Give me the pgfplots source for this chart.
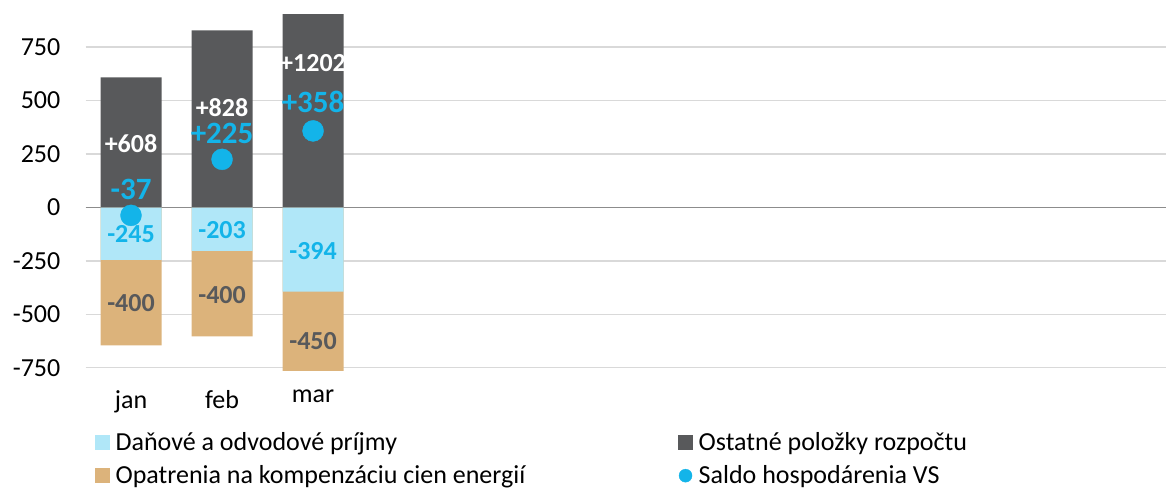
\documentclass[border=0pt]{standalone}
\usepackage{pgfplots}
\pgfplotsset{compat=1.18}
\usepackage{fontspec}
\setmainfont{Carlito}
\definecolor{danove}{HTML}{B0E7F8}
\definecolor{ostatne}{HTML}{58595B}
\definecolor{opatrenia}{HTML}{DCB37B}
\definecolor{saldo}{HTML}{13B4E9}
\definecolor{gridgray}{HTML}{D9D9D9}
\definecolor{zerogray}{HTML}{8C8C8C}
\newcommand{\chartfont}{\fontsize{26}{30}\selectfont}
\begin{document}
\begin{tikzpicture}[x=1pt,y=1pt]
\useasboundingbox (0,0) rectangle (1166,491);
\begin{axis}[
  at={(85.5pt,121pt)}, anchor=south west,
  scale only axis, width=1080.5pt, height=355pt,
  xmin=-0.5, xmax=11.37, ymin=-760, ymax=900,
  axis line style={draw=none}, tick style={draw=none},
  ytick={-750,-500,...,750},
  ymajorgrids, grid style={gridgray, line width=1.2pt},
  extra y ticks={0}, extra y tick labels={},
  extra y tick style={grid style={zerogray, line width=1.8pt}},
  xtick={0,1,2}, xticklabels={jan,feb,mar},
  tick label style={font=\chartfont},
  /pgf/number format/assume math mode=true,
  /pgf/number format/1000 sep={},
  yticklabel style={anchor=east, inner sep=0pt, xshift=-25pt},
  xticklabel style={anchor=north, inner sep=0pt, yshift=-20pt},
  legend columns=2,
  legend cell align=left,
  legend style={at={(axis description cs:0.0088,-0.175)}, anchor=north west,
    draw=none, fill=none, font=\chartfont, inner sep=0pt, row sep=14pt,
    nodes={inner xsep=3pt, inner ysep=0pt},
    /tikz/every odd column/.append style={column sep=3pt},
    /tikz/every even column/.append style={column sep=150pt}},
]
\addlegendimage{legend image code/.code={\fill[danove] (-2pt,-7pt) rectangle (12pt,7pt);}}
\addlegendentry{Daňové a odvodové príjmy}
\addlegendimage{legend image code/.code={\fill[ostatne] (-2pt,-7pt) rectangle (12pt,7pt);}}
\addlegendentry{Ostatné položky rozpočtu}
\addlegendimage{legend image code/.code={\fill[opatrenia] (-2pt,-7pt) rectangle (12pt,7pt);}}
\addlegendentry{Opatrenia na kompenzáciu cien energií}
\addlegendimage{legend image code/.code={\fill[saldo] (5pt,0pt) circle (6.5pt);}}
\addlegendentry{Saldo hospodárenia VS}

% opatrenia drawn down to the total of the negative stack (-245-400 etc.)
\addplot[ybar, bar width=61pt, bar shift=0pt, fill=opatrenia, draw=none, forget plot]
  coordinates {(0,-645) (1,-603) (2,-844)};
% danove
\addplot[ybar, bar width=61pt, bar shift=0pt, fill=danove, draw=none, forget plot]
  coordinates {(0,-245) (1,-203) (2,-394)};
% ostatne
\addplot[ybar, bar width=61pt, bar shift=0pt, fill=ostatne, draw=none, forget plot]
  coordinates {(0,608) (1,828) (2,1202)};
% saldo
\addplot[only marks, mark=*, mark size=10.5pt, color=saldo, forget plot]
  coordinates {(0,-37) (1,225) (2,358)};

% data labels
\addplot[only marks, mark=none, forget plot, nodes near coords, point meta=explicit symbolic,
  nodes near coords align=center,
  every node near coord/.append style={font=\bfseries\chartfont, text=white, inner sep=0pt}]
  coordinates {(0,297)[+608] (1,467)[+828] (2,675)[+1202]};
\addplot[only marks, mark=none, forget plot, nodes near coords, point meta=explicit symbolic,
  nodes near coords align=center,
  every node near coord/.append style={font=\bfseries\fontsize{31}{36}\selectfont, text=saldo, inner sep=0pt}]
  coordinates {(0,86)[-37] (1,348)[+225] (2,493)[+358]};
\addplot[only marks, mark=none, forget plot, nodes near coords, point meta=explicit symbolic,
  nodes near coords align=center,
  every node near coord/.append style={font=\bfseries\chartfont, text=saldo, inner sep=0pt}]
  coordinates {(0,-124)[-245] (1,-105)[-203] (2,-203)[-394]};
\addplot[only marks, mark=none, forget plot, nodes near coords, point meta=explicit symbolic,
  nodes near coords align=center,
  every node near coord/.append style={font=\bfseries\chartfont, text=ostatne, inner sep=0pt}]
  coordinates {(0,-447)[-400] (1,-409)[-400] (2,-623)[-450]};
\end{axis}
\end{tikzpicture}
\end{document}
